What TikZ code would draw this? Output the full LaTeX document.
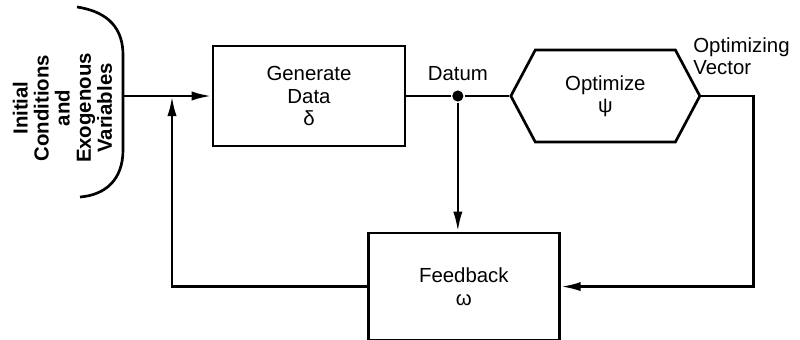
\documentclass[tikz,border=0pt]{standalone}
\usepackage{fontspec}
\setmainfont{Liberation Sans}
\usetikzlibrary{shapes}
\usetikzlibrary{shapes.symbols}
\usetikzlibrary{arrows.meta}
\usetikzlibrary{positioning}
\usetikzlibrary{calc}

\begin{document}
\begin{tikzpicture}
  [every node/.style = {font=\fontsize{14.5}{16}\selectfont, align=center},
   block/.style = {draw, rectangle, line width=1.9pt},
   hexa/.style = {draw, signal, signal to=west and east, signal pointer angle=124,
                  line width=1.9pt, minimum width=4.725cm, minimum height=2.3cm},
   dot/.style = {circle, fill, inner sep=0pt, minimum size=2.8mm},
   every path/.style = {line width=1.9pt, >={Latex[length=5mm,width=2.3mm]}}]
  \useasboundingbox (0,0) rectangle (20,-8.475);

  \node (gen) [block, minimum width=4.8cm, minimum height=2.5cm] at (7.725,-2.4)
    {Generate\\Data\\δ};
  \node (opt) [hexa, right=2.575cm of gen] {Optimize\\ψ};
  \node (dat) [dot] at ($(gen.east)!0.5!(opt.west)$) {};
  \node (fb) [block, minimum width=4.775cm, minimum height=2.675cm,
              below=3.22cm of dat, xshift=0.15cm] {Feedback\\ω};

  \node [above=0.05cm of dat] {Datum};
  \node [anchor=south west, align=left, inner sep=0pt, font=\fontsize{14.5}{15.5}\selectfont]
    at (17.3,-1.9) {Optimizing\\Vector};

  % input source
  \node (ini) [rotate=90, font=\bfseries\fontsize{14.5}{15}\selectfont] at (1.56,-2.7)
    {Initial\\Conditions\\and\\Exogenous\\Variables};
  \draw (1.925,-0.175) .. controls (2.75,-0.3) and (3.075,-0.75) .. (3.075,-1.375)
    -- (3.075,-3.75) .. controls (3.075,-4.5) and (2.625,-4.875) .. (2,-4.925);
  \coordinate (in) at (3.075,-2.4);
  \coordinate (jn) at ($(in)+(1.225,0)$);
  \coordinate (vr) at ($(opt.east)+(1.3,0)$);

  \draw [->] (in) -- (gen.west);
  \draw (gen.east) -- (dat) -- (opt.west);
  \draw [->] (dat) -- (dat |- fb.north);
  \draw [->] (opt.east) -- (vr) |- (fb.east);
  \draw [->] (fb.west) -| (jn);
\end{tikzpicture}
\end{document}
